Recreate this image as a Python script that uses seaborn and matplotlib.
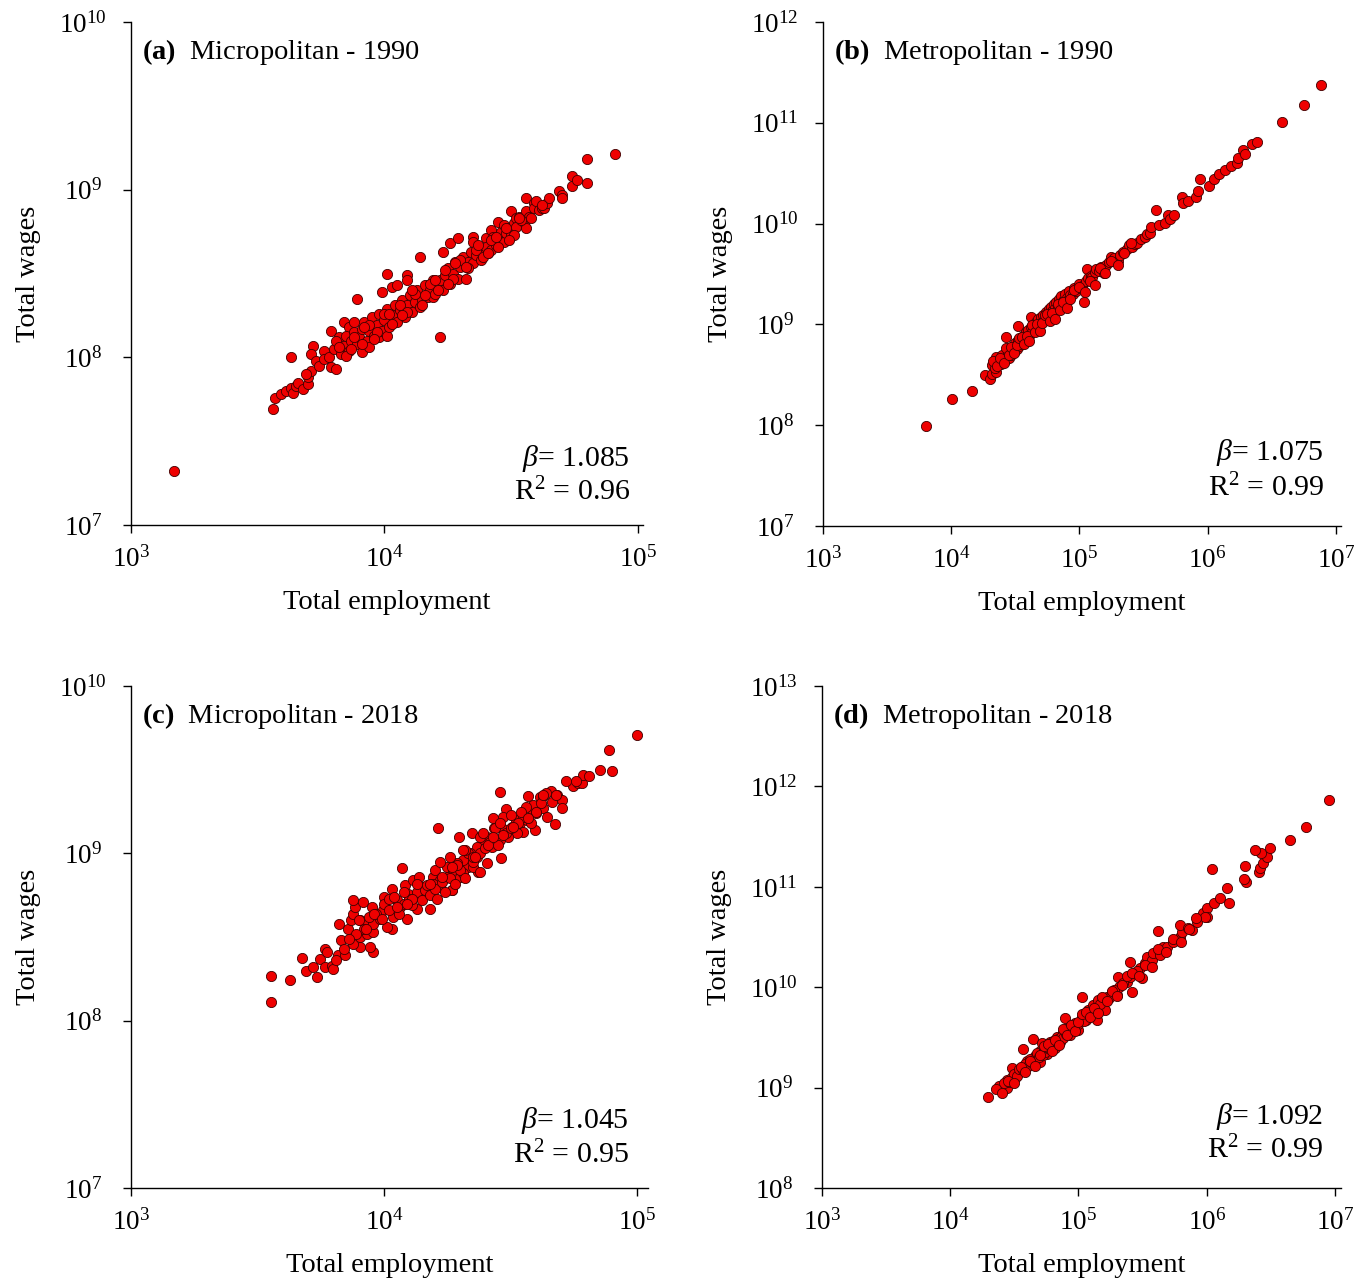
import numpy as np
import matplotlib
matplotlib.use('Agg')
import matplotlib.pyplot as plt
import seaborn as sns

# Values, stored as log10 (employment, wages)

# (a) Micropolitan - 1990
emp_a = [3.17, 3.56, 3.57, 3.59, 3.61, 3.63, 3.64, 3.65, 3.66, 3.63,
         3.68, 3.70, 3.70, 3.71, 3.69, 3.72, 3.71, 3.73, 3.74, 3.76,
         3.76, 3.79, 3.81, 3.79, 3.78, 3.80, 3.82, 3.84, 3.86, 3.88,
         3.89, 3.81, 3.83, 3.84, 3.85, 3.86, 3.87, 3.88, 3.89, 3.90,
         3.91, 3.91, 3.92, 3.93, 3.94, 3.94, 3.95, 3.96, 3.97, 3.98,
         3.98, 3.99, 3.99, 4.00, 4.01, 4.01, 4.01, 4.02, 4.03, 4.03,
         4.04, 4.05, 4.05, 4.06, 4.07, 4.08, 4.09, 4.09, 4.09, 4.10,
         4.11, 4.12, 4.13, 4.14, 4.14, 4.15, 4.16, 4.17, 4.18, 4.19,
         4.19, 4.20, 4.21, 4.22, 4.22, 4.23, 4.23, 4.24, 4.25, 4.26,
         4.26, 4.27, 4.28, 4.29, 4.29, 4.30, 4.31, 4.32, 4.33, 4.34,
         4.35, 4.35, 4.35, 4.36, 4.37, 4.38, 4.39, 4.40, 4.40, 4.41,
         4.42, 4.42, 4.43, 4.44, 4.45, 4.45, 4.46, 4.47, 4.47, 4.48,
         4.49, 4.50, 4.50, 4.51, 4.52, 4.52, 4.53, 4.55, 4.56, 4.56,
         4.56, 4.57, 4.59, 4.59, 4.60, 4.61, 4.62, 4.63, 4.64, 4.65,
         4.69, 4.70, 4.70, 4.74, 4.74, 4.76, 4.80, 4.80, 4.91,
         3.82, 3.85, 3.88, 3.91, 3.94, 3.97, 4.00, 4.03, 4.06, 4.09,
         4.12, 4.15, 4.18, 4.21, 4.24, 4.27, 4.30, 4.33, 4.36, 4.39,
         4.42, 4.45, 4.48, 4.51, 4.54,
         3.87, 3.92, 3.96, 4.02, 4.07, 4.11, 4.16, 4.20, 4.25, 4.28,
         4.32, 4.37, 4.41, 4.44, 4.49, 4.53, 4.58, 4.62]
wage_a = [7.32, 7.69, 7.76, 7.78, 7.80, 7.82, 7.79, 7.83, 7.85, 8.00,
          7.81, 7.84, 7.88, 7.92, 7.90, 8.07, 8.02, 7.98, 7.95, 8.04,
          7.99, 7.94, 7.93, 8.16, 8.00, 8.05, 8.12, 8.21, 8.18, 8.21,
          8.35, 8.10, 8.02, 8.07, 8.13, 8.04, 8.10, 8.15, 8.08, 8.12,
          8.03, 8.17, 8.21, 8.10, 8.06, 8.16, 8.24, 8.13, 8.19, 8.12,
          8.26, 8.39, 8.16, 8.22, 8.13, 8.29, 8.50, 8.18, 8.42, 8.25,
          8.31, 8.43, 8.21, 8.28, 8.34, 8.24, 8.49, 8.46, 8.31, 8.37,
          8.27, 8.33, 8.40, 8.60, 8.30, 8.34, 8.43, 8.36, 8.40, 8.36,
          8.46, 8.38, 8.43, 8.12, 8.46, 8.63, 8.40, 8.49, 8.53, 8.44,
          8.68, 8.50, 8.57, 8.71, 8.47, 8.54, 8.60, 8.47, 8.57, 8.63,
          8.72, 8.56, 8.69, 8.61, 8.66, 8.58, 8.61, 8.71, 8.66, 8.62,
          8.64, 8.76, 8.72, 8.67, 8.81, 8.71, 8.75, 8.79, 8.69, 8.74,
          8.77, 8.87, 8.73, 8.80, 8.83, 8.78, 8.84, 8.81, 8.77, 8.87,
          8.95, 8.84, 8.92, 8.89, 8.93, 8.88, 8.89, 8.89, 8.92, 8.95,
          8.99, 8.97, 8.95, 9.08, 9.02, 9.06, 9.04, 9.18, 9.21,
          8.06, 8.01, 8.12, 8.08, 8.19, 8.15, 8.26, 8.20, 8.31, 8.27,
          8.38, 8.31, 8.44, 8.40, 8.52, 8.47, 8.58, 8.53, 8.64, 8.60,
          8.70, 8.66, 8.77, 8.73, 8.82,
          8.05, 8.18, 8.11, 8.26, 8.25, 8.40, 8.37, 8.46, 8.44, 8.56,
          8.54, 8.67, 8.62, 8.72, 8.70, 8.83, 8.83, 8.91]

# (b) Metropolitan - 1990
emp_b = [3.80, 4.01, 4.16, 4.26, 4.30, 4.32, 4.35, 4.32, 4.34, 4.37,
         4.35, 4.39, 4.40, 4.42, 4.43, 4.44, 4.45, 4.46, 4.47, 4.48,
         4.49, 4.50, 4.51, 4.52, 4.52, 4.53, 4.54, 4.55, 4.56, 4.57,
         4.58, 4.59, 4.60, 4.61, 4.62, 4.62, 4.63, 4.64, 4.65, 4.66,
         4.67, 4.68, 4.69, 4.70, 4.71, 4.72, 4.73, 4.74, 4.75, 4.76,
         4.77, 4.78, 4.79, 4.80, 4.81, 4.82, 4.83, 4.84, 4.85, 4.86,
         4.87, 4.88, 4.89, 4.90, 4.91, 4.92, 4.93, 4.95, 4.96, 4.97,
         4.99, 5.00, 5.02, 5.035, 5.05, 5.06, 5.07, 5.09, 5.10, 5.12,
         5.13, 5.15, 5.17, 5.19, 5.21, 5.23, 5.245, 5.27, 5.30, 5.32,
         5.34, 5.37, 5.39, 5.41, 5.43, 5.45, 5.48, 5.51, 5.53, 5.55,
         5.56, 5.60, 5.62, 5.665, 5.69, 5.71, 5.74, 5.80, 5.81, 5.85,
         5.91, 5.925, 5.94, 6.01, 6.05, 6.09, 6.133, 6.18, 6.23, 6.24,
         6.274, 6.29, 6.35, 6.383, 6.584, 6.753, 6.882,
         4.33, 4.36, 4.38, 4.41, 4.43, 4.45, 4.47, 4.49, 4.51, 4.53,
         4.55, 4.57, 4.59, 4.61, 4.63, 4.65, 4.67, 4.69, 4.71, 4.73,
         4.75, 4.77, 4.79, 4.81, 4.83, 4.85, 4.87, 4.90, 4.93, 4.96,
         5.00, 5.04, 5.08, 5.12, 5.16, 5.20, 5.25, 5.30, 5.35, 5.40]
wage_b = [7.99, 8.26, 8.34, 8.50, 8.46, 8.51, 8.53, 8.60, 8.57, 8.63,
          8.68, 8.61, 8.70, 8.65, 8.88, 8.72, 8.67, 8.75, 8.70, 8.79,
          8.73, 8.82, 8.76, 8.98, 8.85, 8.79, 8.86, 8.81, 8.89, 8.84,
          8.92, 8.86, 8.94, 8.89, 9.07, 8.97, 8.92, 8.99, 8.94, 9.02,
          8.97, 9.05, 9.00, 9.07, 9.02, 9.09, 9.05, 9.12, 9.08, 9.15,
          9.10, 9.17, 9.13, 9.20, 9.16, 9.22, 9.18, 9.25, 9.21, 9.28,
          9.23, 9.20, 9.30, 9.26, 9.24, 9.33, 9.29, 9.30, 9.36, 9.33,
          9.36, 9.40, 9.38, 9.22, 9.43, 9.55, 9.46, 9.48, 9.47, 9.52,
          9.55, 9.53, 9.57, 9.51, 9.59, 9.62, 9.67, 9.66, 9.63, 9.69,
          9.72, 9.75, 9.79, 9.77, 9.80, 9.81, 9.85, 9.87, 9.90, 9.91,
          9.97, 10.14, 9.99, 10.005, 10.085, 10.045, 10.085, 10.26, 10.20, 10.22,
          10.26, 10.32, 10.445, 10.37, 10.445, 10.49, 10.53, 10.57, 10.60, 10.65,
          10.73, 10.69, 10.79, 10.81, 11.01, 11.18, 11.375,
          8.64, 8.59, 8.67, 8.62, 8.77, 8.70, 8.78, 8.72, 8.80, 8.87,
          8.88, 8.81, 8.89, 8.84, 8.99, 8.92, 9.00, 8.93, 9.01, 9.09,
          9.10, 9.03, 9.11, 9.05, 9.20, 9.14, 9.22, 9.16, 9.25, 9.34,
          9.37, 9.32, 9.43, 9.39, 9.56, 9.51, 9.63, 9.59, 9.71, 9.81]

# (c) Micropolitan - 2018
emp_c = [3.553, 3.553, 3.628, 3.676, 3.692, 3.72, 3.735, 3.747, 3.767, 3.775,
         3.767, 3.795, 3.80, 3.818, 3.846, 3.822, 3.83, 3.858, 3.87, 3.877,
         3.885, 3.877, 3.917, 3.953, 3.957, 3.945, 3.905, 3.877, 3.905, 3.933,
         3.957, 3.905, 3.933, 3.957, 3.984, 3.996, 4.00, 4.03, 4.036, 4.03,
         4.01, 4.063, 4.083, 4.09, 4.071, 4.095, 4.13, 4.115, 4.142, 4.17,
         4.18, 4.194, 4.22, 4.25, 4.27, 4.30, 4.33, 4.37, 4.213, 4.296,
         4.348, 4.458, 4.569, 4.617, 4.628, 4.66, 4.684, 4.664, 4.704, 4.704,
         4.676, 4.747, 4.767, 4.783, 4.787, 4.81, 4.854, 4.901, 4.889, 5.00,
         4.482, 4.47, 4.43, 4.435, 4.47, 4.506, 4.537, 4.565, 4.589, 4.589,
         4.628, 4.644, 4.597, 4.55, 4.526, 4.49, 4.458, 4.462, 4.407, 4.427,
         4.391, 4.368, 4.368, 4.34, 4.312, 4.289, 4.273, 4.249, 4.221, 4.194,
         4.154, 4.312, 4.352, 4.407, 4.379, 4.269, 3.97, 4.00, 4.02, 4.05,
         4.06, 4.08, 4.10, 4.11, 4.13, 4.15, 4.16, 4.18, 4.20, 4.21,
         4.23, 4.24, 4.26, 4.28, 4.30, 4.32, 4.33, 4.35, 4.38, 4.40,
         4.42, 4.45, 4.48, 4.50, 4.52, 4.55, 4.58, 4.60, 4.62, 3.92,
         3.94, 3.89, 3.86, 3.84, 3.81,
         3.90, 3.93, 3.96, 3.99, 4.02, 4.05, 4.08, 4.11, 4.14, 4.17,
         4.20, 4.23, 4.26, 4.29, 4.32, 4.35, 4.38, 4.41, 4.44, 4.47,
         4.50, 4.53, 4.56, 4.60, 4.64,
         4.04, 4.09, 4.13, 4.18, 4.22, 4.27, 4.31, 4.36, 4.39, 4.43,
         4.46, 4.51, 4.54, 4.57, 4.63, 4.68, 4.72, 4.76]
wage_c = [8.111, 8.267, 8.243, 8.374, 8.30, 8.32, 8.26, 8.37, 8.43, 8.41,
          8.32, 8.33, 8.31, 8.39, 8.39, 8.58, 8.48, 8.55, 8.60, 8.64,
          8.68, 8.72, 8.71, 8.68, 8.41, 8.44, 8.44, 8.46, 8.50, 8.52,
          8.53, 8.60, 8.58, 8.58, 8.61, 8.66, 8.74, 8.79, 8.62, 8.55,
          8.56, 8.68, 8.81, 8.61, 8.91, 8.76, 8.67, 8.84, 8.74, 8.80,
          8.67, 8.86, 8.80, 8.92, 8.78, 8.86, 8.92, 8.89, 9.151, 9.097,
          9.12, 9.366, 9.342, 9.336, 9.342, 9.37, 9.35, 9.31, 9.32, 9.27,
          9.175, 9.40, 9.42, 9.42, 9.47, 9.46, 9.50, 9.49, 9.62, 9.71,
          9.265, 9.22, 9.21, 9.15, 9.145, 9.16, 9.18, 9.20, 9.25, 9.29,
          9.27, 9.22, 9.14, 9.13, 9.12, 9.10, 9.08, 8.97, 9.10, 9.04,
          9.06, 9.04, 8.98, 9.00, 8.96, 8.94, 8.90, 8.86, 8.84, 8.82,
          8.80, 8.88, 8.92, 8.94, 8.89, 8.78, 8.64, 8.70, 8.66, 8.72,
          8.64, 8.70, 8.73, 8.69, 8.77, 8.72, 8.78, 8.75, 8.79, 8.73,
          8.83, 8.77, 8.85, 8.82, 8.90, 8.85, 9.00, 8.95, 9.00, 9.03,
          9.07, 9.05, 9.12, 9.15, 9.20, 9.22, 9.18, 9.24, 9.30, 8.55,
          8.62, 8.52, 8.49, 8.43, 8.36,
          8.60, 8.55, 8.64, 8.61, 8.73, 8.68, 8.77, 8.73, 8.86, 8.81,
          8.90, 8.86, 8.98, 8.93, 9.02, 8.98, 9.10, 9.05, 9.15, 9.11,
          9.23, 9.18, 9.28, 9.25, 9.36,
          8.74, 8.70, 8.82, 8.82, 8.95, 8.92, 9.02, 8.98, 9.12, 9.10,
          9.18, 9.16, 9.25, 9.21, 9.35, 9.35, 9.43, 9.43]

# (d) Metropolitan - 2018
emp_d = [4.294, 4.38, 4.44, 4.44, 4.48, 4.504, 4.48, 4.53, 4.56, 4.567,
         4.60, 4.64, 4.645, 4.66, 4.70, 4.715, 4.70, 4.754, 4.777, 4.816,
         4.83, 4.855, 4.878, 4.894, 4.917, 4.933, 4.972, 4.995, 5.026, 5.058,
         5.073, 5.143, 5.112, 5.151, 5.026, 5.19, 5.206, 5.221, 5.26, 5.30,
         5.32, 5.307, 5.377, 5.416, 5.40, 5.40, 5.44, 5.494, 5.48, 5.517,
         5.533, 5.572, 5.58, 5.634, 5.658, 5.69, 5.736, 5.79, 5.806, 5.79,
         5.853, 5.884, 5.62, 5.923, 5.97, 6.00, 6.00, 5.985, 6.055, 6.10,
         6.172, 6.157, 6.04, 6.305, 6.289, 6.297, 6.406, 6.414, 6.437, 6.47,
         6.42, 6.375, 6.49, 6.648, 6.772, 6.952, 4.42, 4.46, 4.50, 4.52,
         4.54, 4.57, 4.58, 4.61, 4.62, 4.63, 4.65, 4.67, 4.68, 4.69,
         4.72, 4.73, 4.74, 4.76, 4.78, 4.79, 4.80, 4.82, 4.84, 4.86,
         4.88, 4.90, 4.92, 4.95, 4.97, 5.00, 5.04, 5.08, 5.10, 5.14,
         5.17, 5.24, 5.28, 5.35, 5.46,
         4.36, 4.40, 4.45, 4.50, 4.55, 4.58, 4.62, 4.66, 4.70, 4.73,
         4.76, 4.79, 4.82, 4.85, 4.88, 4.91, 4.94, 4.97, 5.00, 5.03,
         5.06, 5.09, 5.12, 5.15, 5.18, 5.22, 5.26, 5.30, 5.34, 5.38,
         5.42, 5.47, 5.52, 5.57, 5.62, 5.68, 5.74, 5.80, 5.86, 5.92]
wage_d = [8.906, 9.016, 8.996, 9.08, 9.11, 9.10, 9.20, 9.16, 9.21, 9.385,
          9.27, 9.24, 9.48, 9.32, 9.37, 9.44, 9.26, 9.34, 9.455, 9.40,
          9.50, 9.455, 9.555, 9.69, 9.59, 9.52, 9.64, 9.57, 9.70, 9.67,
          9.77, 9.67, 9.82, 9.87, 9.90, 9.84, 9.77, 9.90, 9.95, 9.92,
          10.00, 10.10, 10.05, 9.95, 10.25, 10.10, 10.14, 10.09, 10.19, 10.24,
          10.30, 10.27, 10.34, 10.32, 10.40, 10.40, 10.45, 10.50, 10.55, 10.62,
          10.59, 10.57, 10.56, 10.65, 10.74, 10.79, 10.70, 10.70, 10.839, 10.888,
          10.839, 10.988, 11.177, 11.048, 11.078, 11.207, 11.147, 11.187, 11.237, 11.297,
          11.336, 11.366, 11.386, 11.466, 11.596, 11.865, 9.05, 9.06, 9.14, 9.12,
          9.19, 9.18, 9.24, 9.22, 9.29, 9.26, 9.28, 9.30, 9.35, 9.31,
          9.33, 9.38, 9.36, 9.40, 9.39, 9.43, 9.46, 9.44, 9.48, 9.50,
          9.49, 9.53, 9.55, 9.58, 9.60, 9.63, 9.66, 9.72, 9.75, 9.79,
          9.83, 9.89, 9.97, 10.04, 10.16,
          8.99, 8.95, 9.07, 9.05, 9.21, 9.16, 9.27, 9.22, 9.33, 9.41,
          9.43, 9.37, 9.47, 9.42, 9.58, 9.52, 9.62, 9.56, 9.65, 9.73,
          9.75, 9.70, 9.79, 9.74, 9.90, 9.86, 9.96, 9.91, 10.02, 10.11,
          10.14, 10.11, 10.22, 10.20, 10.38, 10.35, 10.48, 10.45, 10.58, 10.69]

panel_titles = ['(a)', '(b)', '(c)', '(d)']
panel_names = ['Micropolitan - 1990', 'Metropolitan - 1990',
               'Micropolitan - 2018', 'Metropolitan - 2018']
betas = ['1.085', '1.075', '1.045', '1.092']
r2s = ['0.96', '0.99', '0.95', '0.99']
x_decades = [(3, 5), (3, 7), (3, 5), (3, 7)]
y_decades = [(7, 10), (7, 12), (7, 10), (8, 13)]

sns.set_theme(style='ticks')
plt.rcParams['font.family'] = ['Liberation Serif', 'DejaVu Serif']
plt.rcParams['mathtext.fontset'] = 'custom'
plt.rcParams['mathtext.rm'] = 'Liberation Serif'
plt.rcParams['mathtext.it'] = 'Liberation Serif:italic'
plt.rcParams['mathtext.bf'] = 'Liberation Serif:bold'
plt.rcParams['text.color'] = 'black'
plt.rcParams['axes.labelcolor'] = 'black'

fig = plt.figure(figsize=(13.7, 12.79), dpi=100)

rects = [[0.0956, 0.5895, 0.3737, 0.3933],
         [0.6007, 0.5887, 0.3781, 0.3941],
         [0.0956, 0.0711, 0.3774, 0.3925],
         [0.6000, 0.0711, 0.3788, 0.3925]]
x_ext = [0.02, 0.04, 0.043, 0.047]
text_x = [0.975, 0.967, 0.963, 0.965]
beta_y = [0.133, 0.145, 0.135, 0.143]
r2_y = [0.066, 0.075, 0.066, 0.076]

data = [(emp_a, wage_a), (emp_b, wage_b), (emp_c, wage_c), (emp_d, wage_d)]

for i, (emp, wage) in enumerate(data):
    ax = fig.add_axes(rects[i])
    df = {'emp': 10 ** np.array(emp), 'wage': 10 ** np.array(wage)}
    sns.scatterplot(x=df['emp'], y=df['wage'], ax=ax, color='#ee0000',
                    edgecolor='#400000', linewidth=0.6, s=54, zorder=3)
    ax.set_xscale('log')
    ax.set_yscale('log')
    x0, x1 = x_decades[i]
    y0, y1 = y_decades[i]
    ax.set_xlim(10 ** x0, 10 ** (x1 + x_ext[i]))
    ax.set_ylim(10 ** y0, 10 ** y1)
    ax.set_xticks([10 ** k for k in range(x0, x1 + 1)])
    ax.set_yticks([10 ** k for k in range(y0, y1 + 1)])
    ax.minorticks_off()
    ax.tick_params(axis='both', direction='out', length=5.5, width=1,
                   labelsize=19.5, colors='black')
    ax.tick_params(axis='y', pad=29)
    ax.tick_params(axis='x', pad=10)
    plt.setp(ax.get_yticklabels(), ha='center')
    for sp in ['left', 'bottom']:
        ax.spines[sp].set_linewidth(1)
        ax.spines[sp].set_color('black')
    sns.despine(ax=ax)
    ax.set_xlabel('Total employment', fontsize=20.5, labelpad=12)
    ax.set_ylabel('Total wages', fontsize=20.5, labelpad=13)

    ax.text(0.022, 0.94, r'$\mathbf{' + panel_titles[i] + '}$  ' + panel_names[i],
            transform=ax.transAxes, fontsize=20.5, va='center', ha='left')
    ax.text(text_x[i], beta_y[i], r'$\beta$= ' + betas[i],
            transform=ax.transAxes, fontsize=21.5, va='center', ha='right')
    ax.text(text_x[i], r2_y[i], r'R$^{2}$ = ' + r2s[i],
            transform=ax.transAxes, fontsize=21.5, va='center', ha='right')

fig.savefig('out.png', dpi=100, facecolor='white')
